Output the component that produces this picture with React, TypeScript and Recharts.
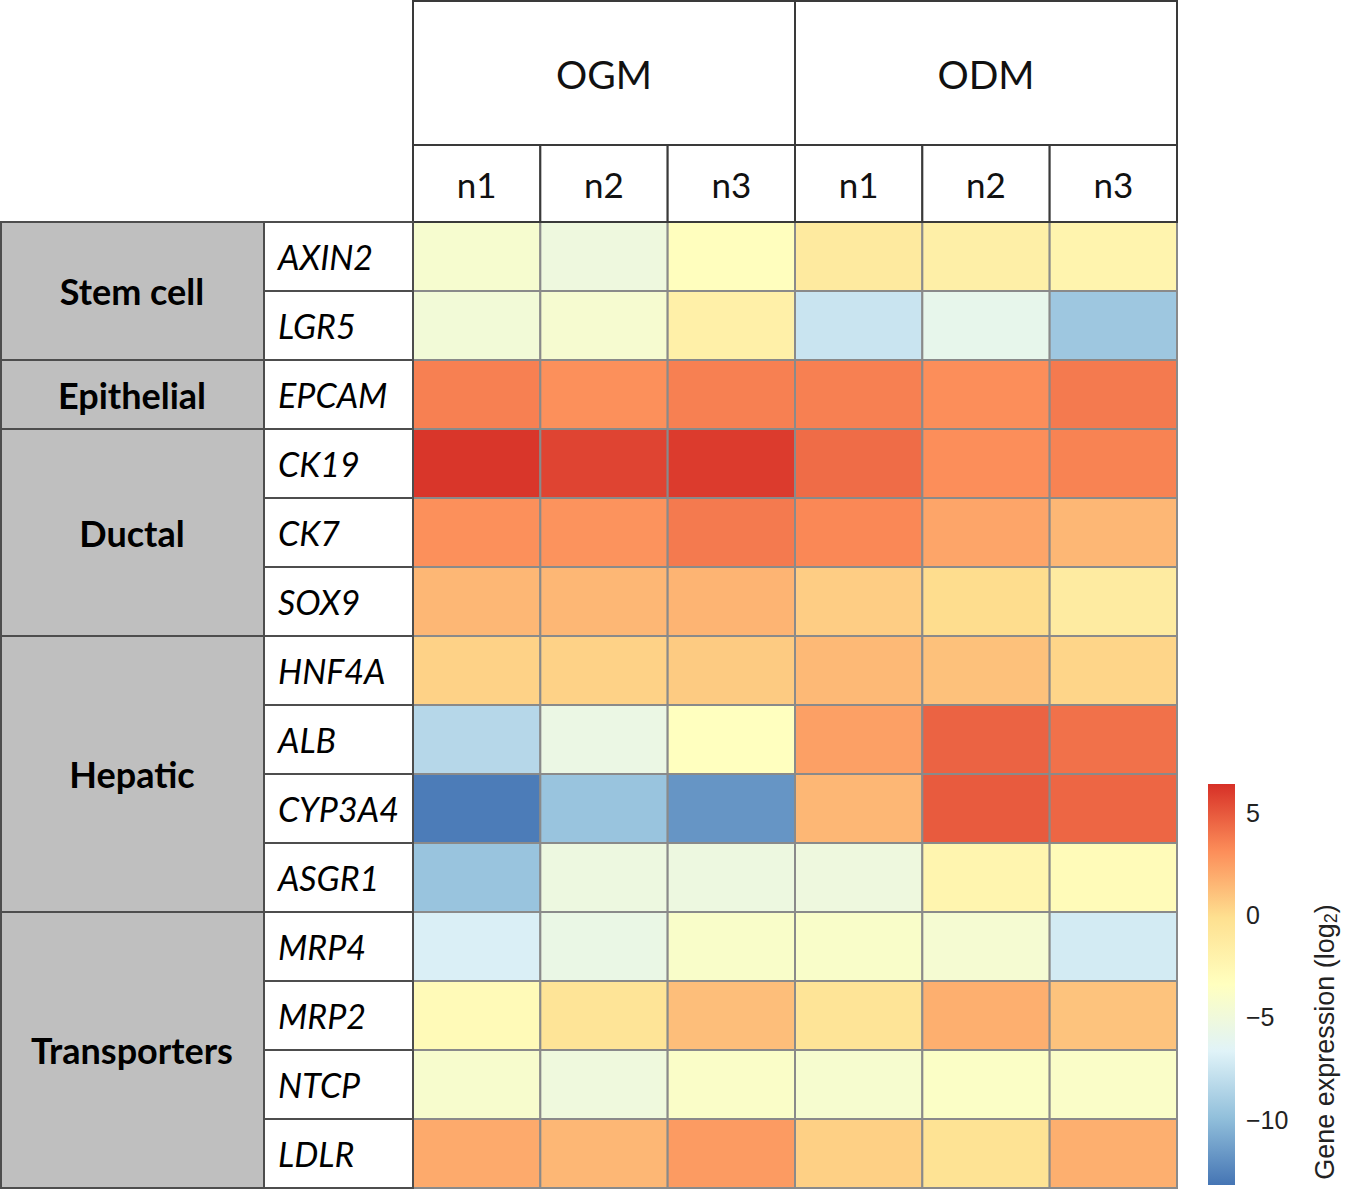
import { ScatterChart, Scatter, XAxis, YAxis } from "recharts";

const GENES = ["AXIN2", "LGR5", "EPCAM", "CK19", "CK7", "SOX9", "HNF4A", "ALB", "CYP3A4", "ASGR1", "MRP4", "MRP2", "NTCP", "LDLR"];
const GROUPS = ["Stem cell", "Epithelial", "Ductal", "Hepatic", "Transporters"];
const GROUP_SIZES = [2, 1, 3, 4, 4];
const CONDITIONS = ["OGM", "ODM"];
const SAMPLES = ["n1", "n2", "n3"];

// log2 expression, one array per sample column (rows follow GENES)
const OGM_N1 = [-4.3, -4.8, 3.6, 6.2, 3.0, 1.5, 0.4, -8.4, -12.9, -9.6, -6.9, -2.9, -4.2, 2.0];
const OGM_N2 = [-5.2, -4.4, 3.0, 5.7, 2.9, 1.5, 0.4, -5.5, -9.6, -5.3, -5.6, -0.6, -5.1, 1.5];
const OGM_N3 = [-3.3, -1.8, 3.6, 6.0, 3.8, 1.6, 0.7, -3.4, -11.8, -5.3, -4.0, 1.2, -3.9, 2.6];
const ODM_N1 = [-1.2, -7.6, 3.6, 4.3, 3.3, 0.6, 1.4, 2.4, 1.5, -5.2, -4.0, -0.6, -4.3, 0.5];
const ODM_N2 = [-1.7, -5.9, 3.1, 3.1, 2.2, 0.0, 1.1, 4.6, 4.9, -2.3, -4.5, 1.8, -3.8, -0.4];
const ODM_N3 = [-2.2, -9.4, 3.8, 3.5, 1.5, -1.3, 0.3, 4.1, 4.5, -3.0, -7.2, 1.0, -3.9, 1.8];
const COLUMNS = [OGM_N1, OGM_N2, OGM_N3, ODM_N1, ODM_N2, ODM_N3];

const SCALE_MIN = -13.2;
const SCALE_MAX = 6.4;
const SCALE_TICKS = [5, 0, -5, -10];
const PALETTE = ["#4575B4", "#91BFDB", "#E0F3F8", "#FFFFBF", "#FEE090", "#FC8D59", "#D73027"];

const W = 1364;
const H = 1200;
const PLOT_L = 413;
const PLOT_R = 1177;
const PLOT_T = 222;
const PLOT_B = 1188;
const CW = (PLOT_R - PLOT_L) / COLUMNS.length;
const RH = (PLOT_B - PLOT_T) / GENES.length;
const FONT = "Lato, 'Open Sans', sans-serif";
const BAR_FONT = "'Liberation Sans', Arial, sans-serif";

if (typeof document !== "undefined") document.body.style.margin = "0";

function hexRgb(h: string) {
  return [1, 3, 5].map((i) => parseInt(h.slice(i, i + 2), 16));
}

function colorFor(v: number) {
  const t = Math.max(0, Math.min(1, (v - SCALE_MIN) / (SCALE_MAX - SCALE_MIN))) * (PALETTE.length - 1);
  const i = Math.min(PALETTE.length - 2, Math.floor(t));
  const f = t - i;
  const a = hexRgb(PALETTE[i]);
  const b = hexRgb(PALETTE[i + 1]);
  const c = a.map((x, k) => Math.round(x + (b[k] - x) * f));
  return `rgb(${c[0]},${c[1]},${c[2]})`;
}

const cells = COLUMNS.flatMap((col, c) =>
  col.map((value, r) => ({ x: c + 0.5, y: r + 0.5, value }))
);

const groupStart: Record<number, number> = {};
GROUP_SIZES.reduce((acc, n, g) => {
  groupStart[acc] = g;
  return acc + n;
}, 0);

function HeatCell(props: any) {
  const { cx, cy, payload } = props;
  return (
    <rect
      x={cx - CW / 2}
      y={cy - RH / 2}
      width={CW}
      height={RH}
      fill={colorFor(payload.value)}
      stroke="#8a8a8a"
      strokeWidth={2}
    />
  );
}

function HeaderTick(props: any) {
  const { x, payload } = props;
  const c = Math.floor(payload.value);
  return (
    <g>
      {c % 3 === 0 && (
        <g>
          <rect x={x - CW / 2} y={1} width={CW * 3} height={144} fill="#fff" stroke="#3a3a3a" strokeWidth={2} />
          <text x={x + CW} y={74} textAnchor="middle" dominantBaseline="central" fontFamily={FONT} fontSize={39} fill="#111">
            {CONDITIONS[Math.floor(c / 3)]}
          </text>
        </g>
      )}
      <rect x={x - CW / 2} y={145} width={CW} height={PLOT_T - 145} fill="#fff" stroke="#3a3a3a" strokeWidth={2} />
      <text x={x} y={184} textAnchor="middle" dominantBaseline="central" fontFamily={FONT} fontSize={35} fill="#111">
        {SAMPLES[c % 3]}
      </text>
    </g>
  );
}

function GeneTick(props: any) {
  const { y, payload } = props;
  const r = Math.floor(payload.value);
  const g = groupStart[r];
  return (
    <g>
      {g !== undefined && (
        <g>
          <rect x={1} y={y - RH / 2} width={263} height={RH * GROUP_SIZES[g]} fill="#bfbfbf" stroke="#4d4d4d" strokeWidth={2} />
          <text
            x={132}
            y={y - RH / 2 + (RH * GROUP_SIZES[g]) / 2}
            textAnchor="middle"
            dominantBaseline="central"
            fontFamily={FONT}
            fontWeight={700}
            fontSize={36}
            fill="#000"
          >
            {GROUPS[g]}
          </text>
        </g>
      )}
      <rect x={264} y={y - RH / 2} width={PLOT_L - 264} height={RH} fill="#fff" stroke="#4d4d4d" strokeWidth={2} />
      <text x={278} y={y} dominantBaseline="central" fontFamily={FONT} fontStyle="italic" fontSize={34} fill="#000">
        {GENES[r]}
      </text>
    </g>
  );
}

function ColorBar() {
  const top = 784;
  const bottom = 1185;
  const pos = (v: number) => top + ((SCALE_MAX - v) / (SCALE_MAX - SCALE_MIN)) * (bottom - top);
  return (
    <svg width={W} height={H} style={{ position: "absolute", left: 0, top: 0, pointerEvents: "none" }}>
      <defs>
        <linearGradient id="expr" x1="0" y1="1" x2="0" y2="0">
          {PALETTE.map((c, i) => (
            <stop key={c} offset={i / (PALETTE.length - 1)} stopColor={c} />
          ))}
        </linearGradient>
      </defs>
      <rect x={1208} y={top} width={27} height={bottom - top} fill="url(#expr)" />
      {SCALE_TICKS.map((v) => (
        <text key={v} x={1246} y={pos(v)} dominantBaseline="central" fontFamily={BAR_FONT} fontSize={25} fill="#222">
          {v < 0 ? `\u2212${Math.abs(v)}` : v}
        </text>
      ))}
      <text
        transform="translate(1325, 1042) rotate(-90)"
        textAnchor="middle"
        dominantBaseline="central"
        fontFamily={BAR_FONT}
        fontSize={27}
        fill="#222"
      >
        Gene expression (log<tspan fontSize={18} dy={6}>2</tspan>
        <tspan dy={-6}>)</tspan>
      </text>
    </svg>
  );
}

export default function App() {
  return (
    <div style={{ position: "relative", width: W, height: H, background: "#fff" }}>
      <ScatterChart width={W} height={H} margin={{ top: 0, left: 0, right: W - PLOT_R, bottom: H - PLOT_B }}>
        <XAxis
          type="number"
          dataKey="x"
          domain={[0, COLUMNS.length]}
          ticks={COLUMNS.map((_, i) => i + 0.5)}
          interval={0}
          orientation="top"
          height={PLOT_T}
          axisLine={false}
          tickLine={false}
          tick={<HeaderTick />}
        />
        <YAxis
          type="number"
          dataKey="y"
          domain={[0, GENES.length]}
          ticks={GENES.map((_, i) => i + 0.5)}
          interval={0}
          reversed
          width={PLOT_L}
          axisLine={false}
          tickLine={false}
          tick={<GeneTick />}
        />
        <Scatter data={cells} shape={<HeatCell />} isAnimationActive={false} />
      </ScatterChart>
      <ColorBar />
    </div>
  );
}
